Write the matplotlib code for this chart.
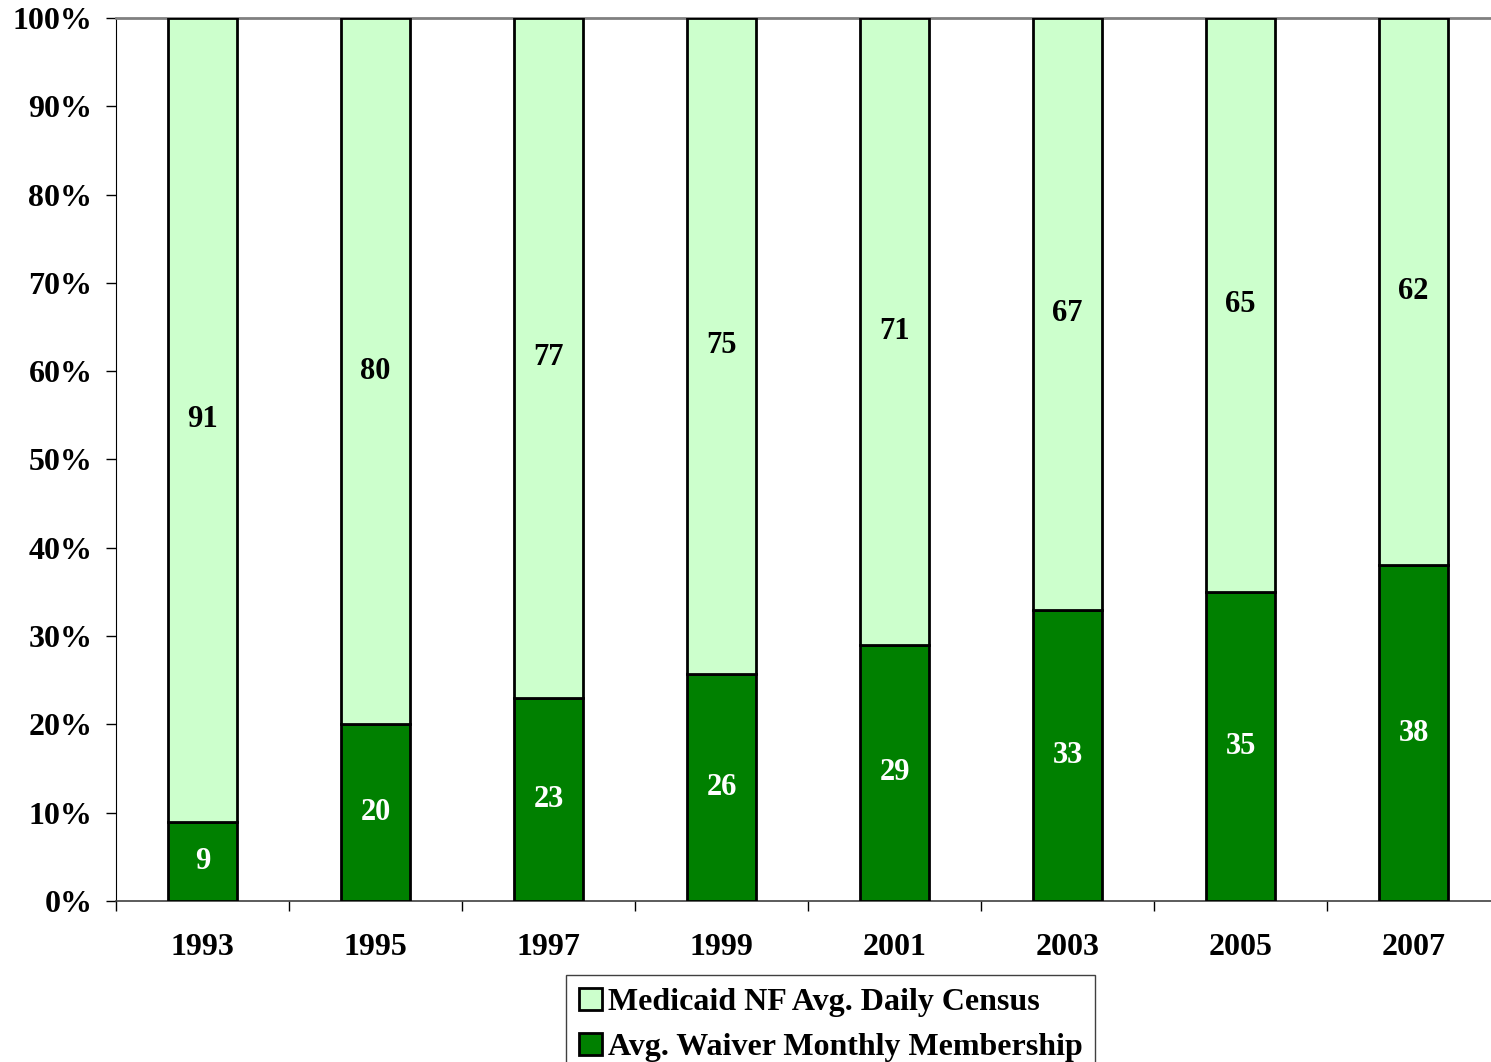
import matplotlib.pyplot as plt
from matplotlib.ticker import PercentFormatter

years = ['1993', '1995', '1997', '1999', '2001', '2003', '2005', '2007']
waiver = [9, 20, 23, 26, 29, 33, 35, 38]
nf_census = [91, 80, 77, 75, 71, 67, 65, 62]

plt.rcParams['font.family'] = 'Liberation Serif'
plt.rcParams['font.weight'] = 'bold'

fig = plt.figure(figsize=(14.91, 10.62), dpi=100)
ax = fig.add_axes([0.0778, 0.1516, 0.9283, 0.8315])

# normalise each year to 100%
totals = [w + n for w, n in zip(waiver, nf_census)]
w_pct = [100 * w / t for w, t in zip(waiver, totals)]
n_pct = [100 * n / t for n, t in zip(nf_census, totals)]

x = list(range(len(years)))
bar_w = 0.4
b1 = ax.bar(x, w_pct, bar_w, color='#008000', edgecolor='black', linewidth=2,
            label='Avg. Waiver Monthly Membership', zorder=3)
b2 = ax.bar(x, n_pct, bar_w, bottom=w_pct, color='#CCFFCC', edgecolor='black',
            linewidth=2, label='Medicaid NF Avg. Daily Census', zorder=3)

for i in x:
    ax.text(i, w_pct[i] / 2, str(waiver[i]), ha='center', va='center',
            color='white', fontsize=22, fontweight='bold', zorder=4)
    ax.text(i, w_pct[i] + n_pct[i] / 2, str(nf_census[i]), ha='center',
            va='center', color='black', fontsize=22, fontweight='bold', zorder=4)

ax.set_xlim(-0.5, 7.5)
ax.set_ylim(0, 100)
ax.set_yticks(range(0, 101, 10))
ax.yaxis.set_major_formatter(PercentFormatter(decimals=0))
ax.set_xticks([i - 0.5 for i in x] + [7.5])
ax.set_xticklabels([])
ax.set_xticks(x, minor=True)
ax.set_xticklabels(years, minor=True)
ax.tick_params(axis='x', which='minor', length=0, pad=23, labelsize=23)
ax.tick_params(axis='x', which='major', length=7, width=1, direction='out')
ax.tick_params(axis='y', length=7, width=1, direction='out', labelsize=23, pad=10)

ax.spines['right'].set_visible(False)
ax.spines['top'].set_color('#808080')
ax.spines['top'].set_linewidth(2)
ax.spines['left'].set_color('black')
ax.spines['bottom'].set_color('#404040')
ax.spines['bottom'].set_linewidth(1.2)

fig.legend([b2, b1], ['Medicaid NF Avg. Daily Census', 'Avg. Waiver Monthly Membership'],
           loc='upper center', bbox_to_anchor=(0.5573, 1 - 975 / 1062),
           fancybox=False, edgecolor='#404040', fontsize=23, handlelength=0.7,
           handleheight=0.7, handletextpad=0.2, borderpad=0.4, labelspacing=0.5,
           borderaxespad=0, framealpha=1)

fig.savefig('out.png', dpi=100)
